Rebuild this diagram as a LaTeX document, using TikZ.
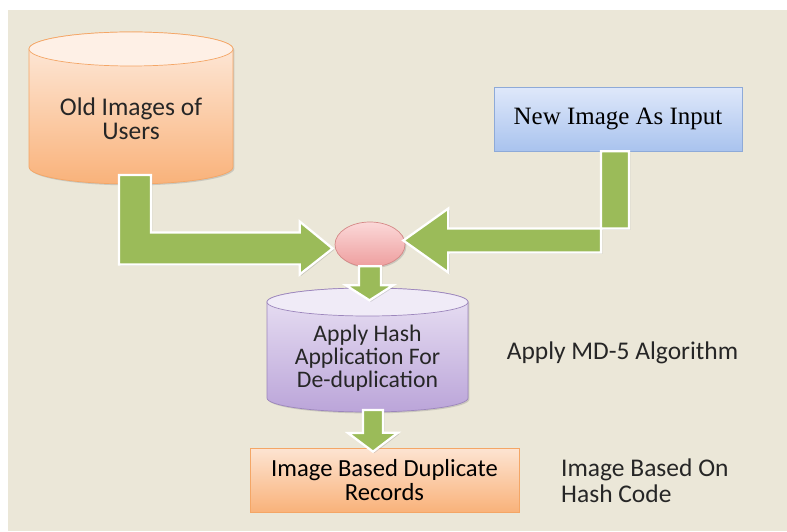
\documentclass[tikz,border=0pt]{standalone}
\usepackage{fontspec}
\setmainfont{Carlito}
\newfontfamily\timesfont{Liberation Serif}
\usetikzlibrary{shapes.geometric,positioning,calc,shadows}

\definecolor{bgbeige}{HTML}{EBE7D8}
\definecolor{arrowgreen}{HTML}{9BBB59}
\definecolor{orangeline}{HTML}{F4A666}
\definecolor{orangetop}{HTML}{FDE4D2}
\definecolor{orangebot}{HTML}{F9B27A}
\definecolor{blueline}{HTML}{8EAAD8}
\definecolor{bluetop}{HTML}{DFE8FA}
\definecolor{bluebot}{HTML}{A9C3EE}
\definecolor{purpleline}{HTML}{9C86BC}
\definecolor{purpletop}{HTML}{EAE2F4}
\definecolor{purplebot}{HTML}{BBA5D9}
\definecolor{pinkline}{HTML}{D48886}
\definecolor{pinktop}{HTML}{FBD8D8}
\definecolor{pinkbot}{HTML}{EE9E9E}

\tikzset{
  softshadow/.style={drop shadow={opacity=0.3, shadow xshift=0.8pt, shadow yshift=-0.8pt}},
  fatarrow/.style={fill=arrowgreen, draw=white, line width=1.3pt, line join=miter, softshadow},
  cyltext/.style={align=center, text=black!85, font=\fontsize{14.5}{13.5}\selectfont},
  inbox/.style={rectangle, draw=blueline, top color=bluetop, bottom color=bluebot, minimum width=4.96cm, minimum height=1.28cm, softshadow, font=\timesfont\fontsize{14.2}{15}\selectfont},
  outbox/.style={rectangle, draw=orangeline, top color=orangetop, bottom color=orangebot, minimum width=5.38cm, minimum height=1.28cm, align=center, softshadow, font=\fontsize{14}{13.5}\selectfont},
  joinnode/.style={ellipse, draw=pinkline, top color=pinktop, bottom color=pinkbot, minimum width=1.4cm, minimum height=0.9cm, inner sep=0pt, softshadow},
  note/.style={text=black!85, font=\fontsize{14.5}{15}\selectfont}
}

\begin{document}
\begin{tikzpicture}[x=0.02cm, y=0.02cm]
\useasboundingbox (0,0) rectangle (787,531);
\fill[bgbeige] (8,0) rectangle (787,521);

% old images store
\path[draw=orangeline, top color=orangetop!70!white, bottom color=orangebot, softshadow] (29,482) -- (29,364) arc[start angle=180, end angle=360, x radius=102, y radius=17] -- (233,482) arc[start angle=0, end angle=180, x radius=102, y radius=17] -- cycle;
\filldraw[draw=orangeline, fill=orangetop!55!white] (131,482) ellipse[x radius=102, y radius=17];
\node[cyltext] (old) at (131,412) {Old Images of\\Users};
\coordinate (oldbase) at (131,347);

% hash application store
\path[draw=purpleline, top color=purpletop, bottom color=purplebot, softshadow] (267,229) -- (267,133) arc[start angle=180, end angle=360, x radius=100.5, y radius=14] -- (468,229) arc[start angle=0, end angle=180, x radius=100.5, y radius=14] -- cycle;
\filldraw[draw=purpleline, fill=purpletop!70!white] (367.5,229) ellipse[x radius=100.5, y radius=14];
\node[cyltext, font=\fontsize{13.5}{13}\selectfont] (hashapp) at (367.5,173) {Apply Hash\\Application For\\De-duplication};
\coordinate (hashbase) at (373,121);

\node[inbox] (newimg) at (618,412) {New Image As Input};
\node[outbox] (result) at (384.5,51) {Image Based Duplicate\\Records};
\node[joinnode] (join) at (370,286.5) {};

\node[note] (md5) at (622.5,178) {Apply MD-5 Algorithm};
\node[note, anchor=west, align=left] (hashcode) at (555,50) {Image Based On\\Hash Code};

% green arrows
\coordinate (tipL) at ($(join.west)+(-2,-4)$);
\coordinate (tipR) at ($(join.east)+(-2,4)$);
\draw[fatarrow] (tipL) -- ++(-33,27) -- ++(0,-11) -| ($(oldbase)+(20,9)$) -- ++(-32,0) |- ($(tipL)+(-33,-16)$) -- ++(0,-10) -- cycle;
\draw[fatarrow] (tipR) -- ++(45,32) -- ++(0,-20) -| ($(newimg.south)+(11,0)$) -- ++(-28,0) |- ($(tipR)+(45,-12)$) -- ++(0,-20) -- cycle;
\draw[fatarrow] ($(join.south)+(-11,1)$) -- ++(22,0) -- ++(0,-19) -- ++(12,0) -- ++(-23.5,-15) -- ++(-23.5,15) -- ++(13,0) -- cycle;
\draw[fatarrow] ($(result.north)+(-11.5,-4)$) -- ++(25,19) -- ++(-15,0) -- ($(hashbase)+(10,0)$) -- ++(-20,0) -- ++(0,-23) -- ++(-15,0) -- cycle;
\end{tikzpicture}
\end{document}
